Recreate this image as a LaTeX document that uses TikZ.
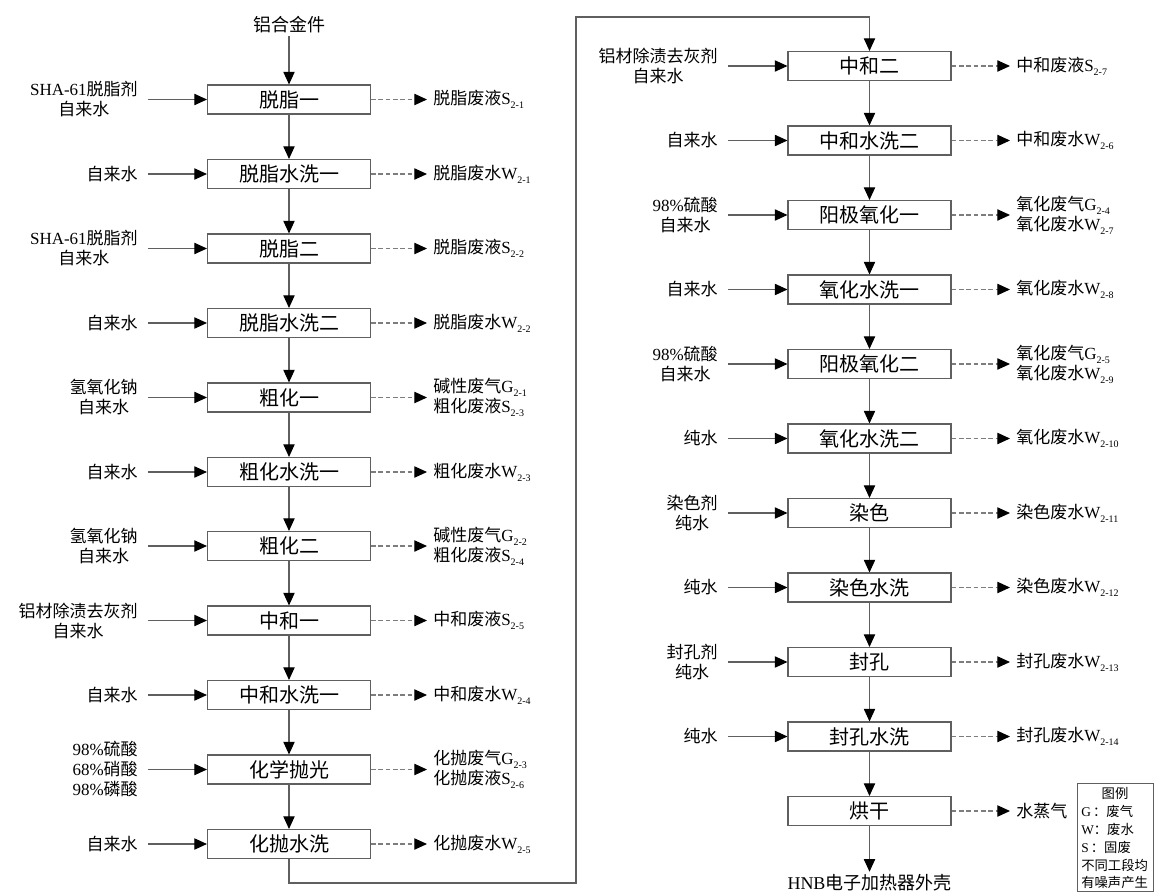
\documentclass[tikz,border=0pt]{standalone}
\usepackage{fontspec}
\setmainfont{Noto Sans CJK SC}
\newfontfamily\latf{Liberation Serif}
\usetikzlibrary{arrows.meta}
\newcommand\lt[1]{{\latf #1}}
\newcommand\wsub[2]{{\latf #1}\raisebox{-0.45ex}{\fontsize{7.5}{8}\selectfont\latf #2}}
\definecolor{ln}{RGB}{95,95,95}
\definecolor{dl}{RGB}{125,125,125}
\tikzset{
  x=0.75pt, y=-0.75pt,
  proc/.style={draw=ln, line width=0.8pt, minimum width=122.25pt, minimum height=21.75pt,
    inner sep=0pt, font=\fontsize{15}{18}\selectfont},
  inlab/.style={anchor=east, align=center, inner sep=0pt, inner xsep=7.5pt,
    font=\fontsize{12.75}{15}\selectfont},
  outlab/.style={anchor=west, align=left, inner sep=0pt, inner xsep=4.5pt,
    font=\fontsize{12.75}{15}\selectfont},
  toplab/.style={inner sep=2pt, font=\fontsize{13.5}{15}\selectfont},
  leglab/.style={inner sep=0pt, font=\fontsize{10}{12}\selectfont},
  flow/.style={draw=ln, line width=0.8pt, -{Triangle[length=9.5pt,width=8.5pt,color=black]}},
  waste/.style={flow, draw=dl, dash pattern=on 3.5pt off 2pt},
}
\begin{document}
\begin{tikzpicture}
\useasboundingbox (0,0) rectangle (1154,893);

% ---------- left column ----------
\node[toplab] (src) at (289,25) {铝合金件};

\node[proc] (L1) at (289,99.5) {脱脂一};
\node[proc] (L2) at (289,174) {脱脂水洗一};
\node[proc] (L3) at (289,248.5) {脱脂二};
\node[proc] (L4) at (289,323) {脱脂水洗二};
\node[proc] (L5) at (289,397.5) {粗化一};
\node[proc] (L6) at (289,472) {粗化水洗一};
\node[proc] (L7) at (289,546) {粗化二};
\node[proc] (L8) at (289,620.5) {中和一};
\node[proc] (L9) at (289,695) {中和水洗一};
\node[proc] (L10) at (289,769.5) {化学抛光};
\node[proc] (L11) at (289,844) {化抛水洗};

\node[inlab] (iL1) at (148,99.5) {\lt{SHA-61}脱脂剂\\自来水};
\node[inlab] (iL2) at (148,174) {自来水};
\node[inlab] (iL3) at (148,248.5) {\lt{SHA-61}脱脂剂\\自来水};
\node[inlab] (iL4) at (148,323) {自来水};
\node[inlab] (iL5) at (148,397.5) {氢氧化钠\\自来水};
\node[inlab] (iL6) at (148,472) {自来水};
\node[inlab] (iL7) at (148,546) {氢氧化钠\\自来水};
\node[inlab] (iL8) at (148,620.5) {铝材除渍去灰剂\\自来水};
\node[inlab] (iL9) at (148,695) {自来水};
\node[inlab] (iL10) at (148,769.5) {\lt{98\%}硫酸\\\lt{68\%}硝酸\\\lt{98\%}磷酸};
\node[inlab] (iL11) at (148,844) {自来水};

\node[outlab] (oL1) at (427,99.5) {脱脂废液\wsub{S}{2-1}};
\node[outlab] (oL2) at (427,174) {脱脂废水\wsub{W}{2-1}};
\node[outlab] (oL3) at (427,248.5) {脱脂废液\wsub{S}{2-2}};
\node[outlab] (oL4) at (427,323) {脱脂废水\wsub{W}{2-2}};
\node[outlab] (oL5) at (427,397.5) {碱性废气\wsub{G}{2-1}\\粗化废液\wsub{S}{2-3}};
\node[outlab] (oL6) at (427,472) {粗化废水\wsub{W}{2-3}};
\node[outlab] (oL7) at (427,546) {碱性废气\wsub{G}{2-2}\\粗化废液\wsub{S}{2-4}};
\node[outlab] (oL8) at (427,620.5) {中和废液\wsub{S}{2-5}};
\node[outlab] (oL9) at (427,695) {中和废水\wsub{W}{2-4}};
\node[outlab] (oL10) at (427,769.5) {化抛废气\wsub{G}{2-3}\\化抛废液\wsub{S}{2-6}};
\node[outlab] (oL11) at (427,844) {化抛废水\wsub{W}{2-5}};

% ---------- right column ----------
\node[proc] (R1) at (869.5,66) {中和二};
\node[proc] (R2) at (869.5,140.5) {中和水洗二};
\node[proc] (R3) at (869.5,215) {阳极氧化一};
\node[proc] (R4) at (869.5,289.5) {氧化水洗一};
\node[proc] (R5) at (869.5,364) {阳极氧化二};
\node[proc] (R6) at (869.5,438.5) {氧化水洗二};
\node[proc] (R7) at (869.5,513) {染色};
\node[proc] (R8) at (869.5,587.5) {染色水洗};
\node[proc] (R9) at (869.5,662) {封孔};
\node[proc] (R10) at (869.5,736.5) {封孔水洗};
\node[proc] (R11) at (869.5,811) {烘干};

\node[inlab] (iR1) at (728,66) {铝材除渍去灰剂\\自来水};
\node[inlab] (iR2) at (728,140.5) {自来水};
\node[inlab] (iR3) at (728,215) {\lt{98\%}硫酸\\自来水};
\node[inlab] (iR4) at (728,289.5) {自来水};
\node[inlab] (iR5) at (728,364) {\lt{98\%}硫酸\\自来水};
\node[inlab] (iR6) at (728,438.5) {纯水};
\node[inlab] (iR7) at (728,513) {染色剂\\纯水};
\node[inlab] (iR8) at (728,587.5) {纯水};
\node[inlab] (iR9) at (728,662) {封孔剂\\纯水};
\node[inlab] (iR10) at (728,736.5) {纯水};

\node[outlab] (oR1) at (1010,66) {中和废液\wsub{S}{2-7}};
\node[outlab] (oR2) at (1010,140.5) {中和废水\wsub{W}{2-6}};
\node[outlab] (oR3) at (1010,215) {氧化废气\wsub{G}{2-4}\\氧化废水\wsub{W}{2-7}};
\node[outlab] (oR4) at (1010,289.5) {氧化废水\wsub{W}{2-8}};
\node[outlab] (oR5) at (1010,364) {氧化废气\wsub{G}{2-5}\\氧化废水\wsub{W}{2-9}};
\node[outlab] (oR6) at (1010,438.5) {氧化废水\wsub{W}{2-10}};
\node[outlab] (oR7) at (1010,513) {染色废水\wsub{W}{2-11}};
\node[outlab] (oR8) at (1010,587.5) {染色废水\wsub{W}{2-12}};
\node[outlab] (oR9) at (1010,662) {封孔废水\wsub{W}{2-13}};
\node[outlab] (oR10) at (1010,736.5) {封孔废水\wsub{W}{2-14}};
\node[outlab] (oR11) at (1010,811) {水蒸气};

\node[toplab] (prod) at (869.5,883) {\lt{HNB}电子加热器外壳};

% ---------- connectors ----------
\draw[flow] (src) -- (L1);
\foreach \a/\b in {L1/L2,L2/L3,L3/L4,L4/L5,L5/L6,L6/L7,L7/L8,L8/L9,L9/L10,L10/L11,
                   R1/R2,R2/R3,R3/R4,R4/R5,R5/R6,R6/R7,R7/R8,R8/R9,R9/R10,R10/R11}
  \draw[flow] (\a) -- (\b);
\foreach \n in {1,...,11} {
  \draw[flow] (iL\n.east) -- (L\n.west);
  \draw[waste] (L\n.east) -- (oL\n.west);
  \draw[waste] (R\n.east) -- (oR\n.west);
}
\foreach \n in {1,...,10}
  \draw[flow] (iR\n.east) -- (R\n.west);

\coordinate (c1) at (289,883);
\coordinate (c2) at (576,883);
\coordinate (c3) at (576,17);
\coordinate (c4) at (869.5,17);
\draw[flow] (L11.south) -- (c1) -- (c2) -- (c3) -- (c4) -- (R1.north);
\draw[flow] (R11) -- (prod);

% ---------- legend ----------
\node[draw=ln, line width=0.8pt, minimum width=57pt, minimum height=81pt, inner sep=0pt,
      anchor=north west] (leg) at (1077,783) {};
\node[leglab] (lg0) at (1115,793) {图例};
\node[leglab, anchor=west] (lg1) at (1081,811) {\lt{G}\,：废气};
\node[leglab, anchor=west] (lg2) at (1081,829) {\lt{W}：废水};
\node[leglab, anchor=west] (lg3) at (1081,847) {\lt{S}\,：固废};
\node[leglab, anchor=west] (lg4) at (1081,865) {不同工段均};
\node[leglab, anchor=west] (lg5) at (1081,882) {有噪声产生};
\end{tikzpicture}
\end{document}
